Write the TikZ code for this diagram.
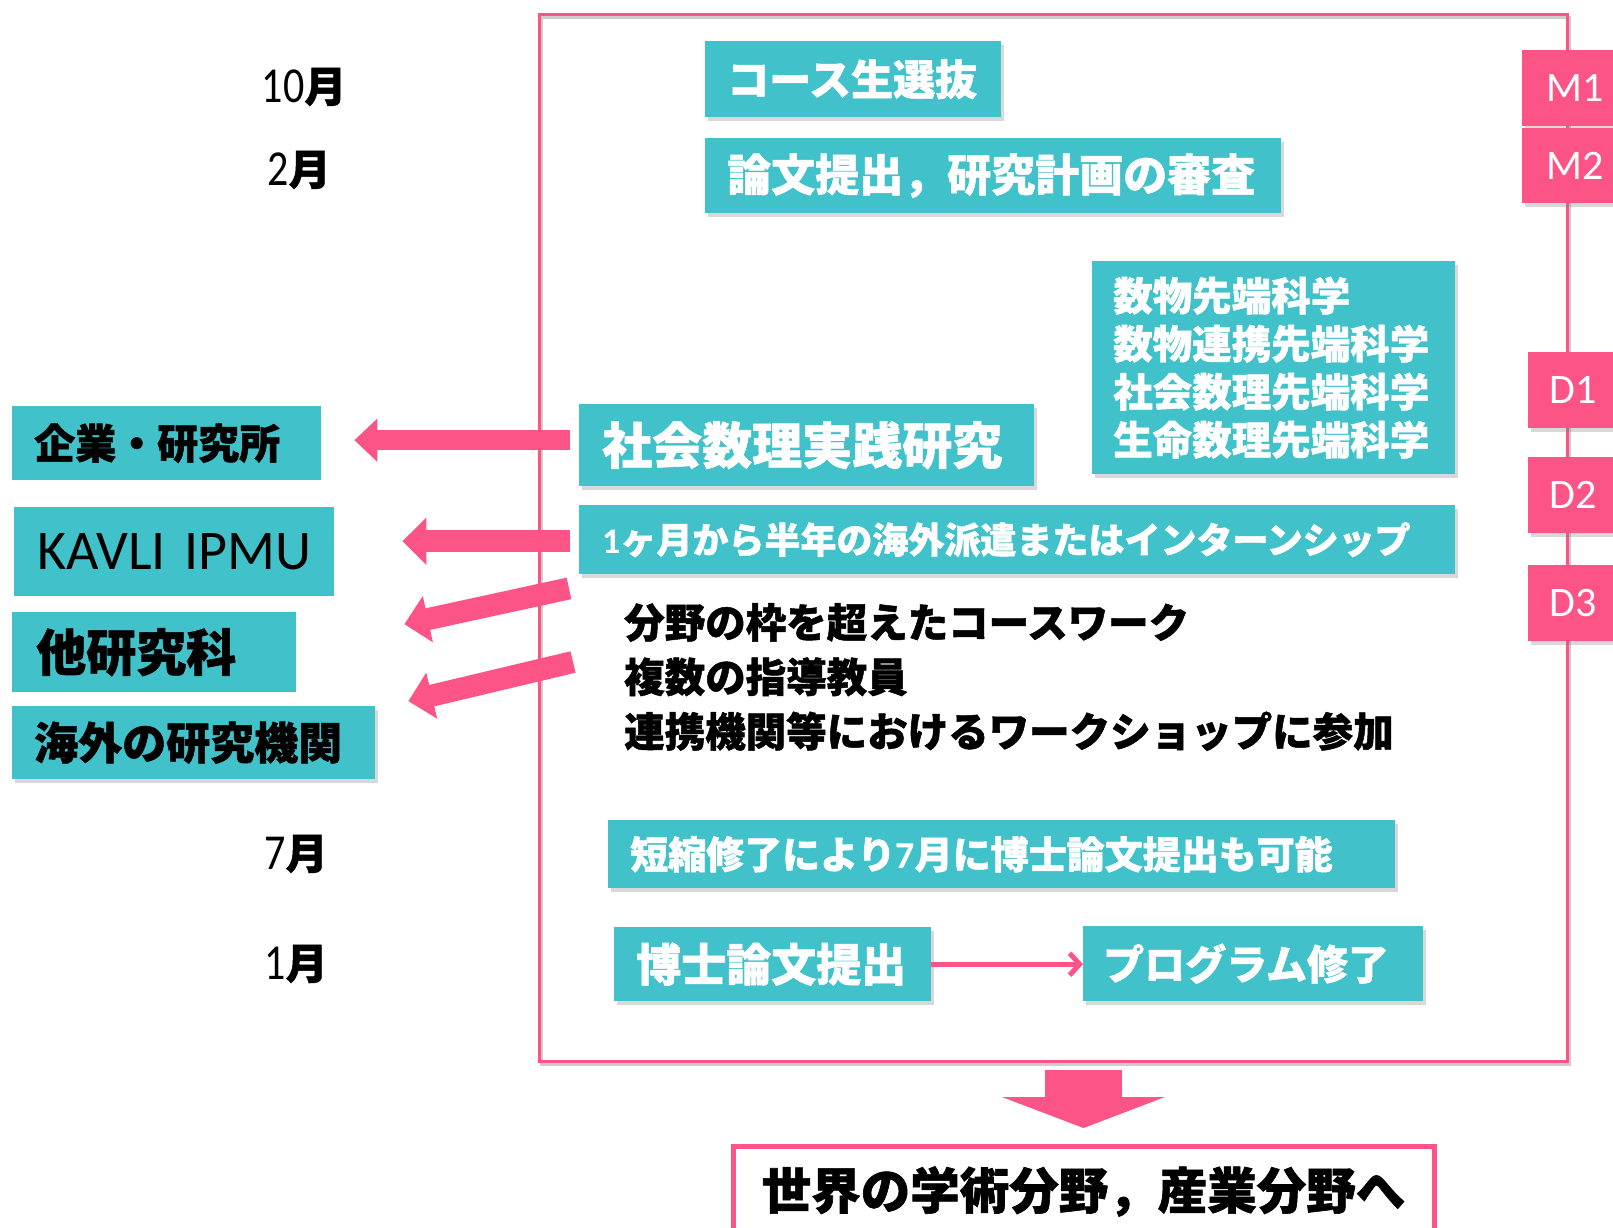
\documentclass[tikz,border=0pt]{standalone}
\usepackage{fontspec}
\usepackage{graphicx}
\setmainfont{Noto Sans CJK JP}
\newfontfamily\jp{Noto Sans CJK JP}[BoldFeatures={FakeBold=1.2}]
\newfontfamily\lat{Carlito}
\usetikzlibrary{arrows.meta,shadows,calc}
\definecolor{teal1}{RGB}{65,193,201}
\definecolor{pink1}{RGB}{252,84,134}
\newcommand{\fs}[1]{\fontsize{#1}{#1}\selectfont}
\begin{document}
\begin{tikzpicture}[x=1pt,y=-1pt,
  shad/.style={drop shadow={shadow xshift=3pt,shadow yshift=-4pt,opacity=0.3}},
  tbox/.style={fill=teal1, anchor=north west, inner ysep=0pt, align=left, text=white, font=\jp\bfseries},
  lbox/.style={fill=teal1, anchor=north west, inner ysep=0pt, align=left, text=black, font=\jp\bfseries},
  yr/.style={fill=pink1, text=white, inner sep=0pt, font=\lat\fs{42}, shad},
  mon/.style={text=black, inner sep=0pt, font=\jp\bfseries\fs{42}},
  parrow/.style={draw=pink1, line width=#1},
]
\useasboundingbox (0,0) rectangle (1613,1227);
\fill[white] (0,0) rectangle (1613,1227);

% main frame
\node[draw=pink1, line width=2.5pt, anchor=north west, minimum width=1028pt, minimum height=1047pt, inner sep=0pt,
  drop shadow={shadow xshift=2pt,shadow yshift=-3pt,opacity=0.2,fill=none,draw=black}] (frame) at (538,13) {};

% year boxes
\node[yr, minimum width=106pt, minimum height=76pt] (M1) at (1575,88) {M1};
\node[yr, minimum width=106pt, minimum height=75pt] (M2) at (1575,165.5) {M2};
\node[yr, minimum width=90pt, minimum height=76pt] (D1) at (1573,390) {D1};
\node[yr, minimum width=90pt, minimum height=76pt] (D2) at (1573,495) {D2};
\node[yr, minimum width=90pt, minimum height=76pt] (D3) at (1573,603) {D3};

% months
\node[mon] (m10) at (304,87) {\scalebox{1}[1.2]{\lat\mdseries 10}月};
\node[mon] (m2) at (299,170) {\scalebox{1}[1.2]{\lat\mdseries 2}月};
\node[mon] (m7) at (296,854) {\scalebox{1}[1.2]{\lat\mdseries 7}月};
\node[mon] (m1) at (296,964) {\scalebox{1}[1.2]{\lat\mdseries 1}月};

% teal boxes inside frame
\node[tbox, shad, minimum width=296pt, minimum height=76pt, text width=252pt, inner xsep=22pt, font=\jp\bfseries\fs{42}] (senbatsu) at (705,41) {コース生選抜};
\node[tbox, shad, minimum width=576pt, minimum height=75pt, text width=532pt, inner xsep=22pt, font=\jp\bfseries\fs{44}] (ronbun) at (705,138) {論文提出，研究計画の審査};
\node[tbox, shad, minimum width=363pt, minimum height=213pt, text width=321pt, inner xsep=21pt, font=\jp\bfseries\fontsize{39.5}{48}\selectfont] (senmon) at (1092,261) {数物先端科学\\数物連携先端科学\\社会数理先端科学\\生命数理先端科学};
\node[tbox, shad, minimum width=455pt, minimum height=82pt, text width=409pt, inner xsep=23pt, font=\jp\bfseries\fs{50}] (jissen) at (579,404) {社会数理実践研究};
\node[tbox, shad, minimum width=876pt, minimum height=69pt, text width=830pt, inner xsep=23pt, font=\jp\bfseries\fs{36}] (haken) at (579,505) {{\lat 1}ヶ月から半年の海外派遣またはインターンシップ};
\node[tbox, shad, minimum width=787pt, minimum height=68pt, text width=743pt, inner xsep=22pt, font=\jp\bfseries\fs{38}] (tanshuku) at (608,820) {短縮修了により{\lat 7}月に博士論文提出も可能};
\node[tbox, shad, minimum width=317pt, minimum height=74pt, text width=273pt, inner xsep=22pt, font=\jp\bfseries\fs{45}] (hakase) at (614,927) {博士論文提出};
\node[tbox, shad, minimum width=340pt, minimum height=75pt, text width=300pt, inner xsep=20pt, font=\jp\bfseries\fs{41}] (shuryo) at (1083,926) {プログラム修了};

% course work text
\node[anchor=west, align=left, inner sep=0pt, text=black, font=\jp\bfseries\fontsize{40.5}{54.5}\selectfont] (work) at (624,677) {分野の枠を超えたコースワーク\\複数の指導教員\\連携機関等におけるワークショップに参加};

% left boxes
\node[lbox, minimum width=309pt, minimum height=74pt, text width=265pt, inner xsep=22pt, font=\jp\bfseries\fs{41}] (kigyo) at (12,406) {企業・研究所};
\node[lbox, minimum width=320pt, minimum height=89pt, text width=274pt, inner xsep=23pt, font=\lat\fs{56}] (kavli) at (14,507) {\mbox{KAVLI IPMU}};
\node[lbox, minimum width=284pt, minimum height=80pt, text width=236pt, inner xsep=24pt, font=\jp\bfseries\fs{50}] (tak) at (12,612) {他研究科};
\node[lbox, shad, minimum width=363pt, minimum height=73pt, text width=319pt, inner xsep=22pt, font=\jp\bfseries\fs{44}] (kaigai) at (12,706) {海外の研究機関};

% left arrows
\draw[parrow=20pt, -{Triangle[length=23pt,width=42pt]}] ($(jissen.west)+(-9,-5)$) -- ($(kigyo.east)+(33,-3)$);
\draw[parrow=22pt, -{Triangle[length=24pt,width=46pt]}] ($(haken.west)+(-9,1.5)$) -- ($(kavli.east)+(68,-10.5)$);
\draw[parrow=22pt, -{Triangle[length=24pt,width=46pt]}] ($(haken.south west)+(-10,14)$) -- ($(tak.east)+(108,-28)$);
\draw[parrow=22pt, -{Triangle[length=24pt,width=46pt]}] ($(work.west)+(-51,-15)$) -- ($(kaigai.east)+(33,-41.5)$);

% arrow between boxes
\draw[draw=pink1, line width=5pt, -{Straight Barb[length=10pt,width=22pt]}] (hakase.east) -- (shuryo.west |- hakase.east);

% final box
\node[draw=pink1, line width=5pt, fill=white, anchor=north, minimum width=701pt, minimum height=90pt, inner sep=0pt, text=black, font=\jp\bfseries\fs{49.5}] (final) at (1083.5,1144) {世界の学術分野，産業分野へ};

% big down arrow
\draw[draw=pink1, line width=77pt, -{Triangle[length=31pt,width=162pt]}] ([yshift=-7pt]final.north |- frame.south) -- ([yshift=16pt]final.north);
\end{tikzpicture}
\end{document}
